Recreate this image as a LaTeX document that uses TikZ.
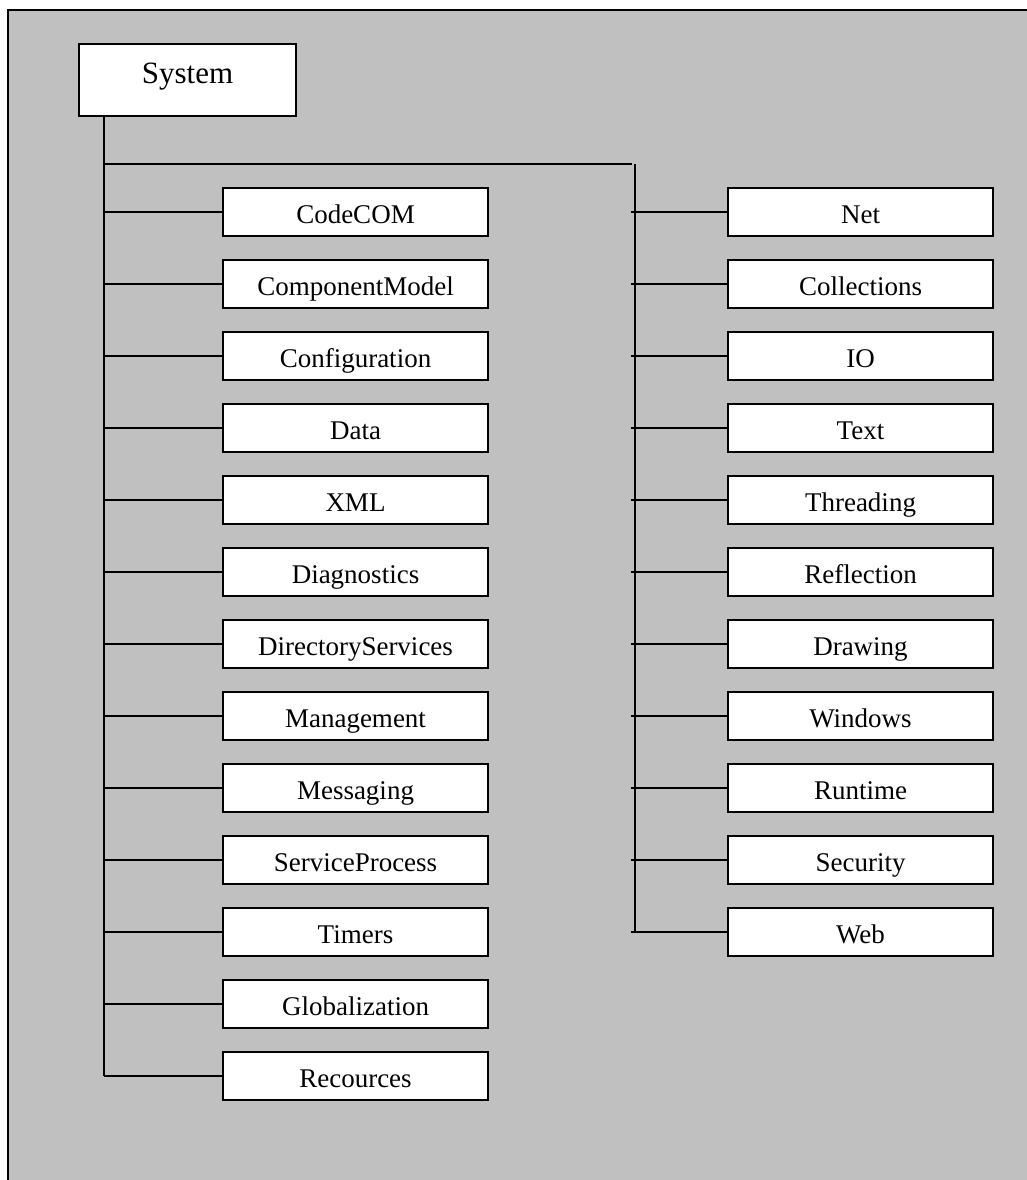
\documentclass[tikz,border=0pt]{standalone}
\usepackage{fontspec}
\setmainfont{Liberation Serif}
\definecolor{panelgray}{HTML}{C0C0C0}
\begin{document}
\begin{tikzpicture}[x=1pt,y=-1pt,
  line width=2pt,
  nsbox/.style={draw=black,fill=white,line width=2pt,rectangle,inner sep=0pt,
    minimum width=265pt,minimum height=48pt,text height=24pt,text depth=0pt,
    font=\fontsize{27}{31}\selectfont},
  rootbox/.style={draw=black,fill=white,line width=2pt,rectangle,inner sep=0pt,
    minimum width=217pt,minimum height=72pt,text height=6.6pt,text depth=0pt,
    font=\fontsize{31}{35}\selectfont},
  link/.style={draw=black,line width=2pt}]
\useasboundingbox (0,0) rectangle (1027,1180);
\begin{scope}
\clip (0,0) rectangle (1027,1180);
% grey panel with its frame
\filldraw[fill=panelgray,draw=black,line width=2pt] (8,10) rectangle (1060,1220);

% root namespace
\node[rootbox] (sys) at (187.5,80) {System};

% left column of namespaces
\foreach \name/\lbl [count=\k from 0] in {
  l1/CodeCOM,l2/ComponentModel,l3/Configuration,l4/Data,l5/XML,
  l6/Diagnostics,l7/DirectoryServices,l8/Management,l9/Messaging,
  l10/ServiceProcess,l11/Timers,l12/Globalization,l13/Recources}
  \node[nsbox] (\name) at (355.5,211.5+72*\k) {\lbl};

% right column of namespaces
\foreach \name/\lbl [count=\k from 0] in {
  r1/Net,r2/Collections,r3/IO,r4/Text,r5/Threading,r6/Reflection,
  r7/Drawing,r8/Windows,r9/Runtime,r10/Security,r11/Web}
  \node[nsbox] (\name) at (860.5,211.5+72*\k) {\lbl};

% trunk lines
\coordinate (tl) at (104,116);
\coordinate (jl) at (104,164);
\coordinate (jr) at (632,164);
\coordinate (tr) at (635,164);
\coordinate (sr) at (631,164);
\draw[link] (tl) -- (tl |- l13.west);
\draw[link] (jl) -- (jr);
\draw[link] (tr) -- (tr |- r11.west);

% branches to the left column
\foreach \name in {l1,l2,l3,l4,l5,l6,l7,l8,l9,l10,l11,l12,l13}
  \draw[link] (tl |- \name.west) -- (\name.west);

% branches to the right column
\foreach \name in {r1,r2,r3,r4,r5,r6,r7,r8,r9,r10,r11}
  \draw[link] (sr |- \name.west) -- (\name.west);
\end{scope}
\end{tikzpicture}
\end{document}
